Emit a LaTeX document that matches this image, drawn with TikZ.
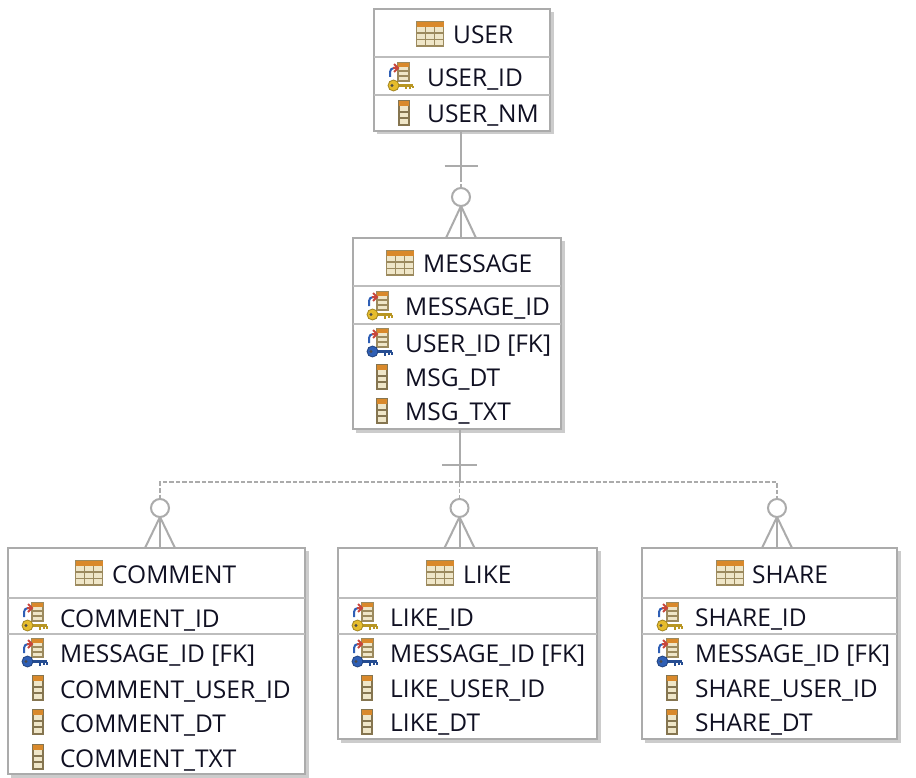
\documentclass[tikz,border=0pt]{standalone}
\usepackage{fontspec}
\setmainfont{Open Sans}
\usetikzlibrary{calc}
\definecolor{edge}{HTML}{ABABAB}
\definecolor{sep}{HTML}{BDBDBD}
\definecolor{ink}{HTML}{101022}
\definecolor{tan}{HTML}{9C8A5E}
\definecolor{cream}{HTML}{EFE6C8}
\definecolor{orng}{HTML}{D9892B}
\definecolor{gold}{HTML}{E6BC2C}
\definecolor{keyblue}{HTML}{2F5FB5}
\definecolor{arrowred}{HTML}{C8463C}
\tikzset{
  entity/.style={draw=edge,line width=1.8pt,fill=white,inner sep=0pt,outer sep=0pt,anchor=north west},
  shade/.style={fill=black!20,draw=none},
  label/.style={anchor=west,inner sep=0pt,text=ink,yshift=-3pt,font=\fontsize{24.5}{28}\selectfont},
  title/.style={anchor=west,inner sep=0pt,text=ink,yshift=-0.5pt,font=\fontsize{24.5}{28}\selectfont},
  rowline/.style={draw=sep,line width=1.6pt},
  conn/.style={draw=edge,line width=2pt},
  conndash/.style={draw=edge,line width=1.8pt,dash pattern=on 4.5pt off 2pt},
  optional/.style={circle,draw=edge,line width=2pt,fill=white,minimum size=18pt,inner sep=0pt,outer sep=0pt},
  pics/tableicon/.style={code={
    \fill[cream] (-13.5,-12) rectangle (13.5,12);
    \draw[tan,line width=1.3pt] (-13.5,-12) rectangle (13.5,12);
    \fill[orng] (-13.5,-12) rectangle (13.5,-7);
    \draw[tan,line width=1.1pt] (-13.5,-1)--(13.5,-1) (-13.5,5.5)--(13.5,5.5) (-4.5,-7)--(-4.5,12) (4.5,-7)--(4.5,12);
  }},
  pics/colicon/.style={code={
    \fill[cream] (-5,-12) rectangle (5,12);
    \draw[tan!85!black,line width=1.5pt] (-5,-12) rectangle (5,12);
    \fill[orng] (-5,-12) rectangle (5,-7);
    \draw[tan!85!black,line width=1.3pt] (-5,-1)--(5,-1) (-5,5)--(5,5);
  }},
  pics/keyicon/.style={code={
    \fill[cream] (-2,-14) rectangle (9,4);
    \draw[tan,line width=1.3pt] (-2,-14) rectangle (9,4);
    \fill[orng] (-2,-14) rectangle (9,-10);
    \draw[tan,line width=1.1pt] (-2,-6)--(9,-6) (-2,-1)--(9,-1);
    \draw[#1!80!black,line width=3.4pt] (-5,8.5)--(13,8.5);
    \draw[#1!80!black,line width=2.4pt] (6,9)--(6,12.5) (10,9)--(10,12) (13,9)--(13,11.5);
    \fill[#1] (-6.5,8.5) circle (5.5);
    \draw[#1!70!black,line width=.8pt] (-6.5,8.5) circle (5.5);
    \fill[black!70] (-8,8.5) circle (1.6);
    \draw[keyblue,line width=2pt] (-10,0)--(-10,-5) to[out=90,in=180] (-6,-9);
    \draw[arrowred,line width=2pt] (-7,-9)--(-3,-9) (-6,-13)--(-2,-9)--(-6,-5);
  }},
}
\newcommand{\entitybox}[5]{% name x0 y0 x1 y1
  \fill[shade] (#2+3,#3+3) rectangle (#4+3.5,#5+3.5);
  \node[entity,minimum width=#4pt-#2pt,minimum height=#5pt-#3pt] (#1) at (#2,#3) {};
}
\begin{document}
\begin{tikzpicture}[x=1pt,y=-1pt]
\useasboundingbox (0,0) rectangle (916,778);
\fill[white] (0,0) rectangle (916,778);

% USER
\entitybox{user}{374}{9}{550}{131}
\draw[rowline] (374,57)--(550,57) (374,95)--(550,95);
\pic at (430,34) {tableicon};
\node[title] (userT) at (453,34) {USER};
\pic at (400,77) {keyicon=gold};
\node[label] (userA) at (427,77) {USER\_ID};
\pic at (404,113) {colicon};
\node[label] (userB) at (427,113) {USER\_NM};

% MESSAGE
\entitybox{message}{353}{238}{561}{429}
\draw[rowline] (353,286)--(561,286) (353,324)--(561,324);
\pic at (400,263) {tableicon};
\node[title] (msgT) at (423,263) {MESSAGE};
\pic at (379,306) {keyicon=gold};
\node[label] (msgA) at (405,306) {MESSAGE\_ID};
\pic at (379,343) {keyicon=keyblue};
\node[label] (msgB) at (405,343) {USER\_ID [FK]};
\pic at (382,377) {colicon};
\node[label] (msgC) at (405,377) {MSG\_DT};
\pic at (382,411) {colicon};
\node[label] (msgD) at (405,411) {MSG\_TXT};

% COMMENT
\entitybox{comment}{8}{548}{305}{774}
\draw[rowline] (8,598)--(305,598) (8,634)--(305,634);
\pic at (89,573) {tableicon};
\node[title] (comT) at (112,574) {COMMENT};
\pic at (34,617) {keyicon=gold};
\node[label] (comA) at (60,617) {COMMENT\_ID};
\pic at (34,653) {keyicon=keyblue};
\node[label] (comB) at (60,653) {MESSAGE\_ID [FK]};
\pic at (38,688) {colicon};
\node[label] (comC) at (60,688) {COMMENT\_USER\_ID};
\pic at (38,722) {colicon};
\node[label] (comD) at (60,722) {COMMENT\_DT};
\pic at (38,757) {colicon};
\node[label] (comE) at (60,757) {COMMENT\_TXT};

% LIKE
\entitybox{like}{338}{548}{597}{739}
\draw[rowline] (338,598)--(597,598) (338,634)--(597,634);
\pic at (440,573) {tableicon};
\node[title] (likT) at (463,574) {LIKE};
\pic at (364,617) {keyicon=gold};
\node[label] (likA) at (390,617) {LIKE\_ID};
\pic at (364,653) {keyicon=keyblue};
\node[label] (likB) at (390,653) {MESSAGE\_ID [FK]};
\pic at (367,688) {colicon};
\node[label] (likC) at (390,688) {LIKE\_USER\_ID};
\pic at (367,722) {colicon};
\node[label] (likD) at (390,722) {LIKE\_DT};

% SHARE
\entitybox{share}{642}{548}{897}{739}
\draw[rowline] (642,598)--(897,598) (642,634)--(897,634);
\pic at (730,573) {tableicon};
\node[title] (shaT) at (752,574) {SHARE};
\pic at (669,617) {keyicon=gold};
\node[label] (shaA) at (695,617) {SHARE\_ID};
\pic at (669,653) {keyicon=keyblue};
\node[label] (shaB) at (695,653) {MESSAGE\_ID [FK]};
\pic at (672,688) {colicon};
\node[label] (shaC) at (695,688) {SHARE\_USER\_ID};
\pic at (672,722) {colicon};
\node[label] (shaD) at (695,722) {SHARE\_DT};

% optional-end circles
\node[optional] (optM) at (461,197) {};
\node[optional] (optC) at (160,508) {};
\node[optional] (optL) at (459.5,508) {};
\node[optional] (optS) at (777,508) {};

% named junctions
\coordinate (uDrop) at (optM |- user.south);
\coordinate (uTick) at (optM |- 0,166);
\coordinate (uEnd) at (optM |- 0,178);
\coordinate (mDrop) at (optL |- message.south);
\coordinate (mTick) at (optL |- 0,465);
\coordinate (bus) at (optL |- 0,482);

% USER -> MESSAGE
\draw[conn] (uDrop) -- (uEnd);
\draw[conndash] (uEnd) -- (optM.north);
\draw[conn] ($(uTick)+(-16.5,0)$) -- ($(uTick)+(16.5,0)$);
\draw[conn] (optM.south) -- (optM |- message.north);
\draw[conn] (optM.south) -- ($(optM |- message.north)+(-15,0)$);
\draw[conn] (optM.south) -- ($(optM |- message.north)+(15,0)$);

% MESSAGE -> children
\draw[conn] (mDrop) -- (bus);
\draw[conn] ($(mTick)+(-17.5,0)$) -- ($(mTick)+(17.5,0)$);
\draw[conndash] (bus) -- (optL.north);
\draw[conndash] (bus) -| (optC.north);
\draw[conndash] (bus) -| (optS.north);
\foreach \o/\e in {optC/comment,optL/like,optS/share}{
  \draw[conn] (\o.south) -- (\o |- \e.north);
  \draw[conn] (\o.south) -- ($(\o |- \e.north)+(-15,0)$);
  \draw[conn] (\o.south) -- ($(\o |- \e.north)+(15,0)$);
}
\end{tikzpicture}
\end{document}
